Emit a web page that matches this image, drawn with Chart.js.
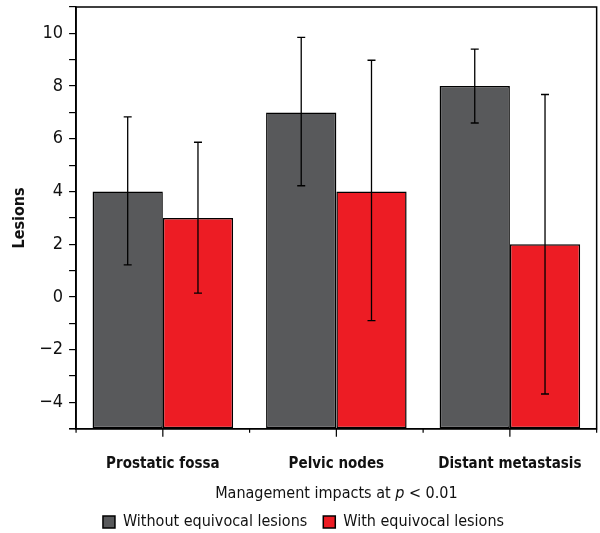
<!DOCTYPE html>
<html>
<head>
<meta charset="utf-8">
<script src="https://cdn.jsdelivr.net/npm/chart.js@4.4.0/dist/chart.umd.min.js"></script>
<style>
  html, body { margin: 0; padding: 0; background: #fff; }
  #wrap { width: 600px; height: 533px; }
</style>
</head>
<body>
<div id="wrap"><canvas id="lesionsChart" width="600" height="533"></canvas></div>
<script>
// data
const categories = ['Prostatic fossa', 'Pelvic nodes', 'Distant metastasis'];
const withoutValues = [4, 7, 8];
const withValues = [3, 4, 2];
const withoutLow = [1.22, 4.22, 6.6];
const withoutHigh = [6.83, 9.85, 9.4];
const withLow = [0.15, -0.9, -3.68];
const withHigh = [5.87, 8.98, 7.68];
const yMin = -5;
const yMax = 11;

const FONT = "'Liberation Sans Narrow', 'DejaVu Sans Condensed', sans-serif";

// error bars, frame and category ticks
const extrasPlugin = {
    id: 'extras',
    afterDatasetsDraw(chart) {
        const ctx = chart.ctx;
        const y = chart.scales.y;
        const lows = [withoutLow, withLow];
        const highs = [withoutHigh, withHigh];
        ctx.save();
        ctx.strokeStyle = '#000';
        ctx.lineWidth = 1.3;
        chart.data.datasets.forEach((ds, di) => {
            const meta = chart.getDatasetMeta(di);
            meta.data.forEach((bar, i) => {
                const yl = y.getPixelForValue(lows[di][i]);
                const yh = y.getPixelForValue(highs[di][i]);
                ctx.beginPath();
                ctx.moveTo(bar.x, yl);
                ctx.lineTo(bar.x, yh);
                ctx.moveTo(bar.x - 4, yl);
                ctx.lineTo(bar.x + 4, yl);
                ctx.moveTo(bar.x - 4, yh);
                ctx.lineTo(bar.x + 4, yh);
                ctx.stroke();
            });
        });
        ctx.restore();
    },
    afterDraw(chart) {
        const ctx = chart.ctx;
        const a = chart.chartArea;
        const x = chart.scales.x;
        ctx.save();
        ctx.strokeStyle = '#000';
        ctx.lineWidth = 1.5;
        ctx.strokeRect(a.left, a.top, a.right - a.left, a.bottom - a.top);
        // ticks: long at category centres, short at boundaries
        ctx.lineWidth = 1.2;
        const step = (a.right - a.left) / categories.length;
        ctx.beginPath();
        for (let i = 0; i <= categories.length; i++) {
            const bx = a.left + i * step;
            ctx.moveTo(bx, a.bottom);
            ctx.lineTo(bx, a.bottom + 4);
        }
        categories.forEach((c, i) => {
            const cx = x.getPixelForValue(i);
            ctx.moveTo(cx, a.bottom);
            ctx.lineTo(cx, a.bottom + 8);
        });
        ctx.moveTo(a.left - 7, a.bottom);
        ctx.lineTo(a.left, a.bottom);
        ctx.stroke();

        // x-axis title with italic p
        const cy = x.bottom - 4;
        const parts = [
            { t: 'Management impacts at ', f: '16px ' + FONT },
            { t: 'p', f: 'italic 16px ' + FONT },
            { t: ' < 0.01', f: '16px ' + FONT }
        ];
        let total = 0;
        parts.forEach(p => { ctx.font = p.f; p.w = ctx.measureText(p.t).width; total += p.w; });
        let px = (a.left + a.right) / 2 - total / 2;
        ctx.fillStyle = '#111';
        ctx.textBaseline = 'middle';
        ctx.textAlign = 'left';
        parts.forEach(p => { ctx.font = p.f; ctx.fillText(p.t, px, cy); px += p.w; });
        ctx.restore();
    }
};

const ctx = document.getElementById('lesionsChart').getContext('2d');
new Chart(ctx, {
    type: 'bar',
    data: {
        labels: categories,
        datasets: [{
            label: 'Without equivocal lesions',
            data: withoutValues,
            base: yMin,
            backgroundColor: '#58595b',
            borderColor: '#000',
            borderWidth: 1.5,
            borderSkipped: false,
            barPercentage: 1,
            categoryPercentage: 0.81
        }, {
            label: 'With equivocal lesions',
            data: withValues,
            base: yMin,
            backgroundColor: '#ed1c24',
            borderColor: '#000',
            borderWidth: 1.5,
            borderSkipped: false,
            barPercentage: 1,
            categoryPercentage: 0.81
        }]
    },
    options: {
        responsive: false,
        animation: false,
        devicePixelRatio: 1,
        layout: { padding: { top: 7, right: 3, left: 10, bottom: -7 } },
        plugins: {
            tooltip: { enabled: false },
            legend: {
                position: 'bottom',
                labels: {
                    boxWidth: 12,
                    boxHeight: 12,
                    padding: 16,
                    color: '#111',
                    font: { family: FONT, size: 16 }
                }
            }
        },
        scales: {
            x: {
                grid: { display: false },
                border: { color: '#000', width: 1.5 },
                ticks: {
                    color: '#111',
                    padding: 18,
                    font: { family: FONT, size: 15, weight: 'bold' }
                },
                title: {
                    display: true,
                    text: 'Management impacts at p < 0.01',
                    color: 'rgba(0,0,0,0)',
                    font: { family: FONT, size: 6 },
                    padding: { top: 0, bottom: 0 }
                }
            },
            y: {
                min: yMin,
                max: yMax,
                afterFit(scale) {
                    scale.paddingTop = 0;
                    scale.paddingBottom = 0;
                },
                grid: {
                    drawOnChartArea: false,
                    drawTicks: true,
                    tickLength: 7,
                    color: '#000',
                    lineWidth: 1.2
                },
                border: { color: '#000', width: 1.5 },
                ticks: {
                    stepSize: 1,
                    color: '#111',
                    padding: 6,
                    font: { family: FONT, size: 18 },
                    callback: v => (v % 2 === 0 && v <= 10) ? String(v).replace('-', '\u2212') : ''
                },
                title: {
                    display: true,
                    text: 'Lesions',
                    color: '#111',
                    font: { family: FONT, size: 16, weight: 'bold' },
                    padding: { top: 0, bottom: 4 }
                }
            }
        }
    },
    plugins: [extrasPlugin]
});
</script>
</body>
</html>
